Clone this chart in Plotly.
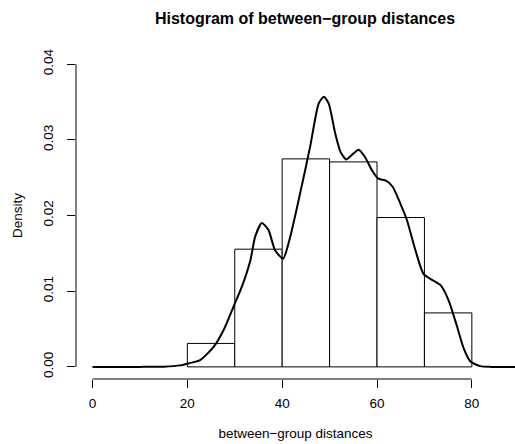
import plotly.graph_objects as go

# Histogram bins (density scale)
bin_left = [20, 30, 40, 50, 60, 70]
bin_width = 10
bin_density = [0.0031, 0.01555, 0.02748, 0.02708, 0.01973, 0.00713]

# Kernel density estimate
dens_x = [0, 10, 15, 18.5, 20.5, 22.7, 25.5, 27.6, 29.7, 31.5, 33.3, 34.3, 35.7,
          37.1, 38.5, 40.2, 41.7, 43.6, 45.9, 47.7, 48.8, 49.8, 51.2, 52.3, 53.5,
          54.7, 56.1, 57.5, 58.9, 60.2, 61.9, 63.3, 64.9, 66.3, 68.1, 69.8, 71.6,
          73.4, 75.1, 76.9, 78.3, 79.7, 81.8, 84, 90]
dens_y = [0, 0, 0.00003, 0.0002, 0.0005, 0.0009, 0.0026, 0.0048, 0.0079, 0.0106,
          0.0141, 0.0172, 0.0190, 0.0181, 0.0154, 0.0143, 0.0172, 0.0224, 0.0291,
          0.0348, 0.0357, 0.0348, 0.0308, 0.0284, 0.0274, 0.0280, 0.0287, 0.0277,
          0.0260, 0.0249, 0.0246, 0.0238, 0.0216, 0.0194, 0.0154, 0.0123, 0.0115,
          0.0108, 0.0088, 0.0053, 0.0024, 0.0007, 0.0001, 0, 0]

x_ticks = [0, 20, 40, 60, 80]
y_ticks = [0.00, 0.01, 0.02, 0.03, 0.04]
y_tick_labels = ["0.00", "0.01", "0.02", "0.03", "0.04"]

FONT = "Liberation Sans, Arial, Helvetica, sans-serif"

fig = go.Figure()
fig.add_trace(go.Bar(
    x=[b + bin_width / 2 for b in bin_left],
    y=bin_density,
    width=bin_width,
    marker=dict(color="white", line=dict(color="black", width=1)),
    hoverinfo="skip",
    showlegend=False,
))
fig.add_trace(go.Scatter(
    x=dens_x, y=dens_y, mode="lines",
    line=dict(color="black", width=2, shape="spline", smoothing=0.6),
    showlegend=False, hoverinfo="skip",
))

# R-style axis lines spanning only the tick range
fig.add_shape(type="line", xref="x", yref="paper",
              x0=min(x_ticks), x1=max(x_ticks), y0=0, y1=0,
              line=dict(color="black", width=1))
fig.add_shape(type="line", xref="paper", yref="y",
              x0=0, x1=0, y0=min(y_ticks), y1=max(y_ticks),
              line=dict(color="black", width=1))

fig.update_layout(
    width=515, height=444,
    margin=dict(l=76, r=0, t=52, b=65),
    paper_bgcolor="white", plot_bgcolor="white",
    font=dict(family=FONT, size=13.5, color="black"),
    bargap=0,
    hovermode=False,
    title=dict(text="<b>Histogram of between\u2212group distances</b>",
               xref="container", yref="container",
               x=305 / 515, y=1 - 18 / 444, xanchor="center", yanchor="middle",
               font=dict(size=16, family=FONT, color="black")),
    xaxis=dict(range=[-3.48, 89.1], tickvals=x_ticks,
               ticktext=[str(v) for v in x_ticks],
               ticks="outside", ticklen=8, tickcolor="black", tickwidth=1,
               showline=False, showgrid=False, zeroline=False,
               ticklabelstandoff=4, automargin=False,
               title=dict(text="between\u2212group distances", standoff=18,
                          font=dict(size=13.5))),
    yaxis=dict(range=[-0.0016, 0.0416], tickvals=y_ticks, ticktext=y_tick_labels,
               ticks="outside", ticklen=8, tickcolor="black", tickwidth=1,
               tickangle=-90, showline=False, showgrid=False, zeroline=False,
               ticklabelstandoff=9, automargin=False,
               title=dict(text="Density", standoff=14, font=dict(size=13.5))),
)

fig.write_html(
    "out.html",
    config={"displayModeBar": False, "staticPlot": True},
    post_script="document.body.style.margin='0';document.body.style.padding='0';"
                "document.documentElement.style.overflow='hidden';",
)
